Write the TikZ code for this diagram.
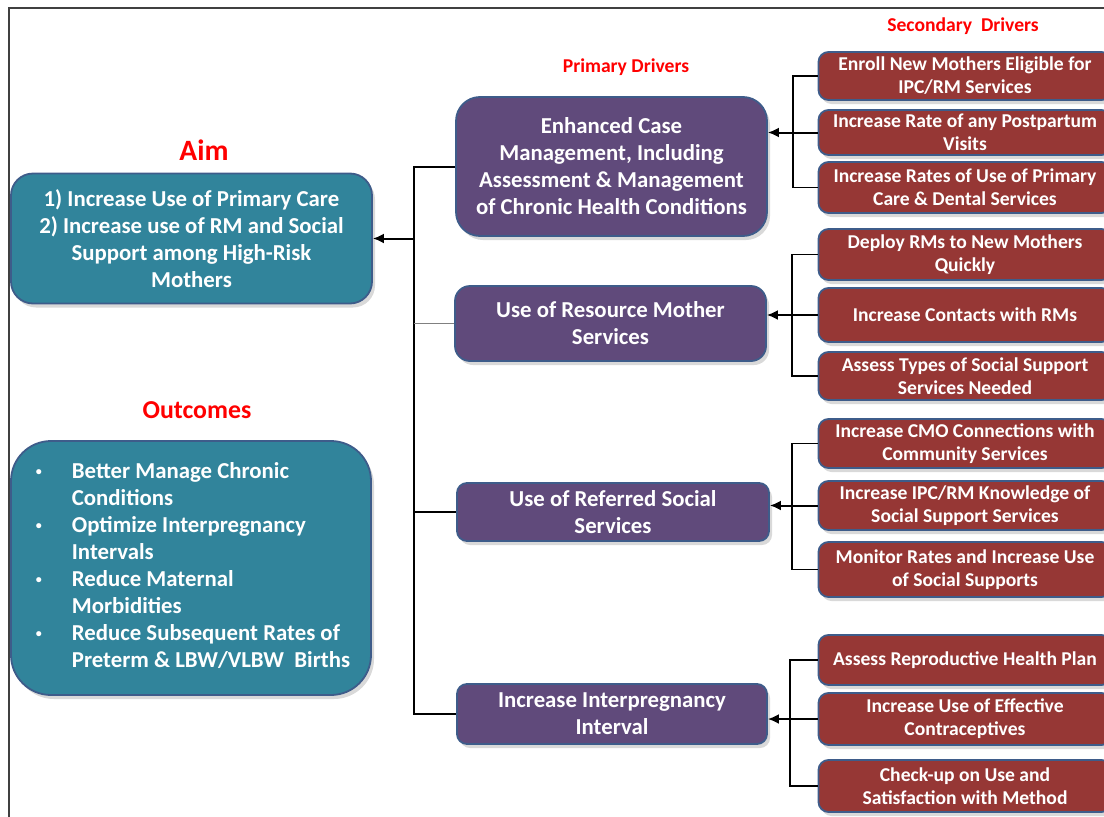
\documentclass[tikz,border=0pt]{standalone}
\usepackage{fontspec}
\setmainfont{Carlito}
\usetikzlibrary{arrows.meta,shadows}
\definecolor{aimteal}{RGB}{49,132,155}
\definecolor{drvpurple}{RGB}{96,74,123}
\definecolor{subred}{RGB}{150,55,53}
\definecolor{edgeblue}{RGB}{62,92,138}
\definecolor{headred}{RGB}{255,0,0}
\definecolor{framegray}{RGB}{64,64,64}
\newcommand{\dotmark}{\raisebox{3.5pt}{\fontsize{12}{12}\selectfont\textbullet}}

\begin{document}
\begin{tikzpicture}[x=1pt, y=-1pt,
  box/.style={draw=edgeblue, line width=1.8pt, text=white, align=center,
    inner sep=0pt, drop shadow={opacity=0.3, shadow xshift=3pt, shadow yshift=-4pt}},
  aimbox/.style={box, fill=aimteal, font=\bfseries\fontsize{22.8}{27}\selectfont},
  driver/.style={box, fill=drvpurple, font=\bfseries\fontsize{22.8}{27}\selectfont},
  subdriver/.style={box, fill=subred, rounded corners=10pt, minimum width=293pt,
    font=\bfseries\fontsize{19.6}{23}\selectfont},
  heading/.style={text=headred, font=\bfseries\fontsize{#1}{#1}\selectfont},
  spine/.style={line width=2pt},
  branch/.style={line width=1.5pt},
  feed/.style={line width=2pt, -{Latex[length=11pt,width=10pt]}}]
\useasboundingbox (0,0) rectangle (1104,817);
\draw [framegray, line width=1.5pt] (9,817) -- (9,8) -- (1104,8);

% headings
\node [heading=29.5] (aimhead)  at (204,150) {Aim};
\node [heading=25.8] (outhead)  at (197,410) {Outcomes};
\node [heading=19.6] (primhead) at (626,67)  {Primary Drivers};
\node [heading=19.6] (sechead)  at (963,26)  {Secondary\ \ Drivers};

% aim and outcomes
\node [aimbox, rounded corners=22pt, minimum width=361pt, minimum height=130pt]
  (aim) at (191.5,238.5)
  {1) Increase Use of Primary Care\\2) Increase use of RM and Social\\
   Support among High-Risk\\Mothers};
\node [aimbox, rounded corners=40pt, minimum width=360pt, minimum height=254pt]
  (outcomes) at (191,568)
  {\begin{tabular}{@{\hspace{4pt}}p{36pt}@{}l@{}}
   \dotmark & Better Manage Chronic\\ & Conditions\\
   \dotmark & Optimize Interpregnancy\\ & Intervals\\
   \dotmark & Reduce Maternal\\ & Morbidities\\
   \dotmark & Reduce Subsequent Rates of\\ & Preterm \& LBW/VLBW\ \ Births
   \end{tabular}};

% primary drivers
\node [driver, rounded corners=24pt, minimum width=311pt, minimum height=139pt]
  (case) at (611.5,166.5)
  {Enhanced Case\\Management, Including\\Assessment \& Management\\
   of Chronic Health Conditions};
\node [driver, rounded corners=15pt, minimum width=311pt, minimum height=75pt]
  (rmserv) at (610.5,323.5) {Use of Resource Mother\\Services};
\node [driver, rounded corners=10pt, minimum width=312pt, minimum height=58pt]
  (social) at (613,512) {Use of Referred Social\\Services};
\node [driver, rounded corners=10pt, minimum width=310pt, minimum height=60pt]
  (interval) at (612,714) {Increase Interpregnancy\\Interval};

% secondary drivers
\node [subdriver, minimum height=48pt] (enroll)   at (965,76)
  {Enroll New Mothers Eligible for\\IPC/RM Services};
\node [subdriver, minimum height=45pt] (postpart) at (965,132.5)
  {Increase Rate of any Postpartum\\Visits};
\node [subdriver, minimum height=51pt] (dental)   at (965,187.5)
  {Increase Rates of Use of Primary\\Care \& Dental Services};
\node [subdriver, minimum height=51pt] (deploy)   at (965,254.5)
  {Deploy RMs to New Mothers\\Quickly};
\node [subdriver, minimum height=54pt] (contacts) at (965,315)
  {Increase Contacts with RMs};
\node [subdriver, minimum height=48pt] (assess)   at (965,376)
  {Assess Types of Social Support\\Services Needed};
\node [subdriver, minimum height=49pt] (cmo)      at (965,443.5)
  {Increase CMO Connections with\\Community Services};
\node [subdriver, minimum height=49pt] (knowl)    at (965,505.5)
  {Increase IPC/RM Knowledge of\\Social Support Services};
\node [subdriver, minimum height=55pt] (monitor)  at (965,569.5)
  {Monitor Rates and Increase Use\\of Social Supports};
\node [subdriver, minimum height=50pt] (plan)     at (965,660)
  {Assess Reproductive Health Plan};
\node [subdriver, minimum height=52pt] (contra)   at (965,719)
  {Increase Use of Effective\\Contraceptives};
\node [subdriver, minimum height=52pt] (checkup)  at (965,786)
  {Check-up on Use and\\Satisfaction with Method};

% primary drivers to aim
\coordinate (hub) at (414,238.5);
\draw [spine] (case.west) -| (hub |- interval.west) -- (interval.west);
\draw [spine] (social.west) -- (social.west -| hub);
\draw [gray, line width=1pt] (rmserv.west) -- (rmserv.west -| hub);
\draw [feed] (hub) -- (aim.east);

% secondary drivers to primary drivers
\coordinate (b1) at (793,133);
\coordinate (b2) at (792,315);
\coordinate (b3) at (792,505);
\coordinate (b4) at (790,719);
\draw [branch] (enroll.west) -| (b1 |- dental.west) -- (dental.west);
\draw [feed] (postpart.west) -- (case.east |- postpart.west);
\draw [branch] (deploy.west) -| (b2 |- assess.west) -- (assess.west);
\draw [feed] (contacts.west) -- (rmserv.east |- contacts.west);
\draw [branch] (cmo.west) -| (b3 |- monitor.west) -- (monitor.west);
\draw [feed] (knowl.west) -- (social.east |- knowl.west);
\draw [branch] (plan.west) -| (b4 |- checkup.west) -- (checkup.west);
\draw [feed] (contra.west) -- (interval.east |- contra.west);
\end{tikzpicture}
\end{document}
